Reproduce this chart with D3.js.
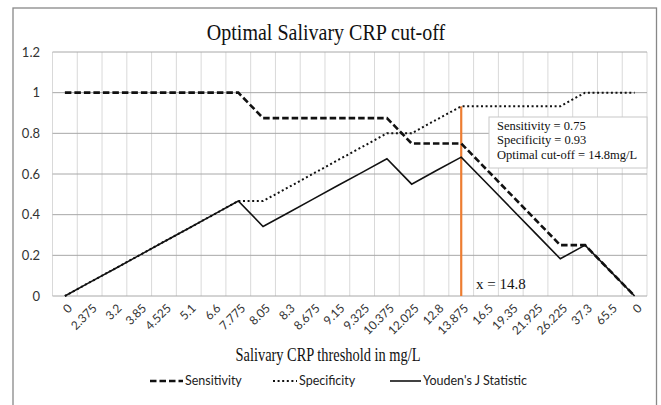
<!DOCTYPE html>
<head>
    <meta charset="utf-8">
    <script src="https://d3js.org/d3.v7.min.js"></script>
    <style>
        body { margin: 0; background: #fff; }
        .tick-lab { font-family: Lato, "Liberation Sans", sans-serif; fill: #333; }
        .serif { font-family: "Liberation Serif", "Times New Roman", serif; fill: #111; }
        .legend text { font-family: Lato, "Liberation Sans", sans-serif; font-size: 12.5px; fill: #222; }
    </style>
</head>
<body>
<div id="chart"></div>
<script>
    // thresholds (category axis)
    var thresholds = ["0", "2.375", "3.2", "3.85", "4.525", "5.1", "6.6", "7.775", "8.05", "8.3",
        "8.675", "9.15", "9.325", "10.375", "12.025", "12.8", "13.875", "16.5", "19.35", "21.925",
        "26.225", "37.3", "65.5", "0"];
    var sensitivity = [1, 1, 1, 1, 1, 1, 1, 1, 0.875, 0.875, 0.875, 0.875, 0.875, 0.875,
        0.75, 0.75, 0.75, 0.625, 0.5, 0.375, 0.25, 0.25, 0.125, 0];
    var specificity = [0, 0.067, 0.133, 0.2, 0.267, 0.333, 0.4, 0.467, 0.467, 0.533, 0.6, 0.667,
        0.733, 0.8, 0.8, 0.867, 0.933, 0.933, 0.933, 0.933, 0.933, 1, 1, 1];
    var youden = [0, 0.067, 0.133, 0.2, 0.267, 0.333, 0.4, 0.467, 0.342, 0.408, 0.475, 0.542,
        0.608, 0.675, 0.55, 0.617, 0.683, 0.558, 0.433, 0.308, 0.183, 0.25, 0.125, 0];
    var yTicks = [0, 0.2, 0.4, 0.6, 0.8, 1, 1.2];
    var cutIndex = 16, cutTop = 0.933;
    var noteLines = ["Sensitivity = 0.75", "Specificity = 0.93", "Optimal cut-off = 14.8mg/L"];

    var width = 661, height = 405;
    var margin = {top: 52, right: 14, bottom: 109, left: 52.5};

    var svg = d3.select("#chart").append("svg")
        .attr("width", width).attr("height", height);

    // outer frame
    svg.append("rect")
        .attr("x", 13).attr("y", 8).attr("width", 643.5).attr("height", 410)
        .attr("fill", "none").attr("stroke", "#888").attr("stroke-width", 1.3);

    var x = d3.scaleBand()
        .domain(d3.range(thresholds.length))
        .range([margin.left, width - margin.right])
        .padding(0);
    var y = d3.scaleLinear().domain([0, 1.2]).range([296, 52]);

    var cx = function (i) { return x(i) + x.bandwidth() / 2; };

    // vertical gridlines (category boundaries)
    var vg = d3.range(thresholds.length + 1).map(function (i) {
        return margin.left + i * x.bandwidth();
    });
    svg.append("g").selectAll("line").data(vg).enter().append("line")
        .attr("x1", function (d) { return d; }).attr("x2", function (d) { return d; })
        .attr("y1", y(1.2)).attr("y2", y(0))
        .attr("stroke", "#d9d9d9").attr("stroke-width", 1);

    // horizontal gridlines
    svg.append("g").selectAll("line").data(yTicks).enter().append("line")
        .attr("x1", margin.left).attr("x2", width - margin.right)
        .attr("y1", function (d) { return y(d); }).attr("y2", function (d) { return y(d); })
        .attr("stroke", "#a8a8a8").attr("stroke-width", 1);

    // y labels
    svg.append("g").selectAll("text").data(yTicks).enter().append("text")
        .attr("class", "tick-lab").attr("font-size", "13px")
        .attr("x", 40).attr("y", function (d) { return y(d); })
        .attr("dy", "0.35em").attr("text-anchor", "end")
        .text(function (d) { return d; });

    // x labels, rotated
    svg.append("g").selectAll("text").data(thresholds).enter().append("text")
        .attr("class", "tick-lab").attr("font-size", "12px")
        .attr("text-anchor", "end")
        .attr("transform", function (d, i) {
            return "translate(" + (cx(i) + 5) + "," + 306 + ") rotate(-45)";
        })
        .attr("dy", "0.35em")
        .text(function (d) { return d; });

    // orange cut-off line
    svg.append("line")
        .attr("x1", cx(cutIndex)).attr("x2", cx(cutIndex))
        .attr("y1", y(0)).attr("y2", y(cutTop))
        .attr("stroke", "#ed7d31").attr("stroke-width", 2.2);

    var line = d3.line()
        .x(function (d, i) { return cx(i); })
        .y(function (d) { return y(d); });

    svg.append("path").datum(specificity)
        .attr("d", line).attr("fill", "none")
        .attr("stroke", "#111").attr("stroke-width", 2)
        .attr("stroke-dasharray", "2,2.6");
    svg.append("path").datum(sensitivity)
        .attr("d", line).attr("fill", "none")
        .attr("stroke", "#111").attr("stroke-width", 2.6)
        .attr("stroke-dasharray", "6.5,3");
    svg.append("path").datum(youden)
        .attr("d", line).attr("fill", "none")
        .attr("stroke", "#111").attr("stroke-width", 1.6);

    // annotation box
    var note = svg.append("g");
    note.append("rect")
        .attr("x", 489).attr("y", 117).attr("width", 158).attr("height", 51)
        .attr("fill", "#fff").attr("stroke", "#c8c8c8");
    note.selectAll("text").data(noteLines).enter().append("text")
        .attr("class", "serif")
        .attr("x", 497).attr("y", function (d, i) { return 130 + i * 14.3; })
        .attr("font-size", "12.5px")
        .text(function (d) { return d; });

    svg.append("text").attr("class", "serif")
        .attr("x", 476).attr("y", 289).attr("font-size", "15px")
        .text("x = 14.8");

    // titles (the source figure is slightly squeezed horizontally)
    svg.append("text").attr("class", "serif")
        .attr("transform", "translate(326,40) scale(0.87,1)")
        .attr("text-anchor", "middle")
        .attr("font-size", "23px")
        .text("Optimal Salivary CRP cut-off");
    svg.append("text").attr("class", "serif")
        .attr("transform", "translate(328,361) scale(0.8,1)")
        .attr("text-anchor", "middle")
        .attr("font-size", "18px")
        .text("Salivary CRP threshold in mg/L");

    // legend
    var legend = svg.append("g").attr("class", "legend");
    var items = [
        {name: "Sensitivity", dash: "6.5,3", w: 2.6, x0: 150, x1: 183},
        {name: "Specificity", dash: "2,2.6", w: 2, x0: 273, x1: 297},
        {name: "Youden's J Statistic", dash: null, w: 1.6, x0: 390, x1: 421}
    ];
    items.forEach(function (it) {
        legend.append("line")
            .attr("x1", it.x0).attr("x2", it.x1).attr("y1", 381).attr("y2", 381)
            .attr("stroke", "#111").attr("stroke-width", it.w)
            .attr("stroke-dasharray", it.dash);
        legend.append("text").attr("x", it.x1 + 2).attr("y", 381)
            .attr("dy", "0.35em").text(it.name);
    });
</script>
</body>
